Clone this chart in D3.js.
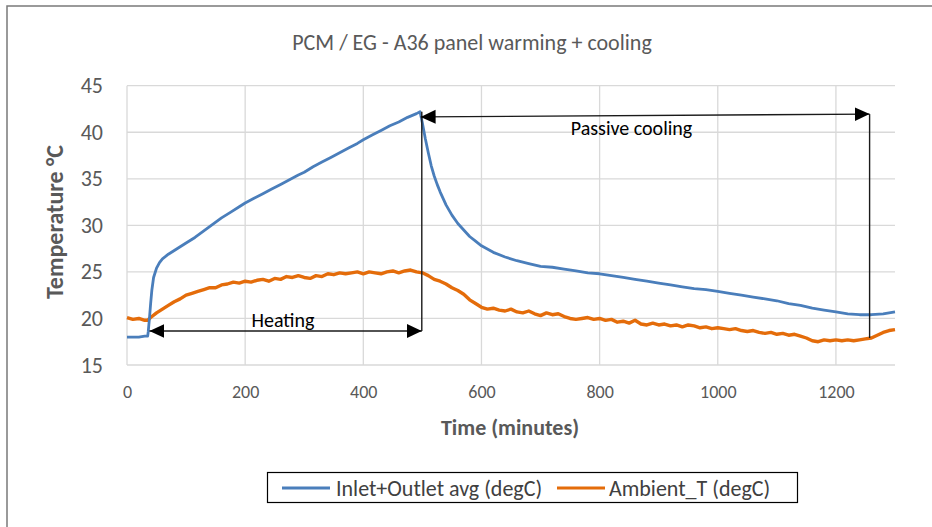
<!DOCTYPE html>
<html>
<head>
<meta charset="utf-8">
<script src="https://cdn.jsdelivr.net/npm/d3@7/dist/d3.min.js"></script>
<style>
  html, body { margin: 0; padding: 0; background: #fff; }
  svg { display: block; }
  text { font-family: Carlito, Calibri, Lato, "Open Sans", sans-serif; }
</style>
</head>
<body>
<svg id="chart" width="932" height="527"></svg>
<script>
// ---------- DATA ----------
const chartTitle = "PCM / EG - A36 panel warming + cooling";
const xTitle = "Time (minutes)";
const yTitle = "Temperature °C";
const seriesNames = ["Inlet+Outlet avg (degC)", "Ambient_T (degC)"];
const xTicks = [0, 200, 400, 600, 800, 1000, 1200];
const yTicks = [15, 20, 25, 30, 35, 40, 45];

// Inlet+Outlet average (minutes, degC)
const inletTime = [0, 10, 20, 30, 35, 36, 37, 38, 40, 42, 45, 50, 55, 60, 70, 80, 90, 100, 115, 130, 145, 160, 175, 190, 200, 215, 230, 245, 260, 275, 290, 300, 315, 330, 345, 360, 375, 390, 400, 415, 430, 445, 460, 475, 490, 496,
  500, 505, 510, 515, 520, 525, 530, 540, 550, 560, 570, 580, 590, 600, 620, 640, 660, 680, 700, 720, 740, 760, 780, 800, 820, 840, 860, 880, 900, 920, 940, 960, 980, 1000, 1020, 1040, 1060, 1080, 1100, 1120, 1140, 1160, 1180, 1200, 1220, 1240, 1260, 1280, 1300];
const inletTemp = [18.0, 18.0, 18.0, 18.1, 18.1, 18.6, 19.3, 20.0, 21.6, 23.0, 24.4, 25.4, 26.0, 26.4, 26.9, 27.3, 27.7, 28.1, 28.7, 29.4, 30.1, 30.8, 31.4, 32.0, 32.4, 32.9, 33.4, 33.9, 34.4, 34.9, 35.4, 35.7, 36.3, 36.8, 37.3, 37.8, 38.3, 38.8, 39.2, 39.7, 40.2, 40.7, 41.1, 41.6, 42.0, 42.2,
  41.0, 39.3, 37.8, 36.4, 35.3, 34.4, 33.6, 32.2, 31.1, 30.2, 29.5, 28.8, 28.3, 27.8, 27.1, 26.6, 26.2, 25.9, 25.6, 25.5, 25.3, 25.1, 24.9, 24.8, 24.6, 24.4, 24.2, 24.0, 23.8, 23.6, 23.4, 23.2, 23.1, 22.9, 22.7, 22.5, 22.3, 22.1, 21.9, 21.6, 21.4, 21.1, 20.9, 20.7, 20.5, 20.4, 20.4, 20.5, 20.7];

// Ambient temperature (minutes, degC)
const ambientTime = [0, 10, 20, 30, 35, 40, 50, 60, 70, 80, 90, 100, 110, 120, 130, 140, 150, 160, 170, 180, 190, 200, 210, 220, 230, 240, 250, 260, 270, 280, 290, 300, 310, 320, 330, 340, 350, 360, 370, 380, 390, 400, 410, 420, 430, 440, 450, 460, 470, 480, 490, 500, 510, 520, 530, 540, 550, 560, 570, 580, 590, 600, 610, 620, 630, 640, 650, 660, 670, 680, 690, 700, 710, 720, 730, 740, 750, 760, 770, 780, 790, 800, 810, 820, 830, 840, 850, 860, 870, 880, 890, 900, 910, 920, 930, 940, 950, 960, 970, 980, 990, 1000, 1010, 1020, 1030, 1040, 1050, 1060, 1070, 1080, 1090, 1100, 1110, 1120, 1130, 1140, 1150, 1160, 1170, 1180, 1190, 1200, 1210, 1220, 1230, 1240, 1250, 1260, 1270, 1280, 1290, 1300];
const ambientTemp = [20.1, 19.9, 20.0, 19.8, 19.8, 20.1, 20.6, 21.0, 21.4, 21.8, 22.1, 22.5, 22.7, 22.9, 23.1, 23.3, 23.3, 23.6, 23.7, 23.9, 23.8, 24.0, 23.9, 24.1, 24.2, 24.0, 24.3, 24.2, 24.5, 24.4, 24.6, 24.4, 24.3, 24.6, 24.5, 24.8, 24.7, 24.9, 24.8, 24.9, 25.0, 24.8, 25.0, 24.9, 24.8, 25.0, 25.1, 24.9, 25.1, 25.2, 25.0, 24.9, 24.6, 24.2, 24.0, 23.7, 23.3, 23.0, 22.6, 22.0, 21.6, 21.2, 21.0, 21.1, 20.9, 20.8, 21.0, 20.7, 20.6, 20.8, 20.5, 20.3, 20.6, 20.4, 20.5, 20.2, 20.0, 19.9, 20.0, 20.1, 19.9, 20.0, 19.8, 19.9, 19.6, 19.7, 19.5, 19.8, 19.4, 19.3, 19.5, 19.3, 19.4, 19.2, 19.3, 19.1, 19.3, 19.2, 19.0, 19.1, 18.9, 19.0, 18.9, 18.8, 18.9, 18.7, 18.6, 18.7, 18.5, 18.4, 18.5, 18.3, 18.4, 18.2, 18.3, 18.1, 17.9, 17.6, 17.5, 17.7, 17.6, 17.7, 17.6, 17.7, 17.6, 17.7, 17.8, 17.9, 18.2, 18.5, 18.7, 18.8];

// Annotations (data units)
const heatingLabel = "Heating";
const coolingLabel = "Passive cooling";
const heatingArrow = { t0: 38, t1: 499, temp: 18.65, topTemp: 42.2 };
const coolingArrow = { t0: 497, temp0: 41.65, t1: 1257, temp1: 41.95, bottomTemp: 17.9 };

// ---------- DRAW ----------
const svg = d3.select("#chart");
const colors = ["#4A7EBB", "#E46C0A"];
const textColor = "#595959";

// outer frame
svg.append("rect").attr("x", 7).attr("y", 6).attr("width", 960).attr("height", 560)
  .attr("fill", "none").attr("stroke", "#7a7a7a").attr("stroke-width", 1.5);

const x = d3.scaleLinear().domain([0, 1300]).range([127, 895]);
const y = d3.scaleLinear().domain([15, 45]).range([365, 85.7]);

// gridlines
const grid = svg.append("g");
grid.selectAll("line.h").data(yTicks).join("line")
  .attr("x1", x(0)).attr("x2", x(1300))
  .attr("y1", d => y(d)).attr("y2", d => y(d))
  .attr("stroke", "#d9d9d9").attr("stroke-width", 1.3);
grid.selectAll("line.v").data(xTicks).join("line")
  .attr("x1", d => x(d)).attr("x2", d => x(d))
  .attr("y1", y(45)).attr("y2", y(15))
  .attr("stroke", "#d9d9d9").attr("stroke-width", 1.3);

// axes (labels only)
const yAxis = d3.axisLeft(y).tickValues(yTicks).tickFormat(d3.format("d")).tickSize(0).tickPadding(24);
svg.append("g").attr("transform", `translate(${x(0)},0)`).call(yAxis)
  .call(g => g.select(".domain").remove())
  .selectAll("text").attr("fill", textColor).style("font-size", "22px")
  .style("font-family", "Carlito, Calibri, Lato, sans-serif");

const xAxis = d3.axisBottom(x).tickValues(xTicks).tickFormat(d3.format("d")).tickSize(0).tickPadding(20);
svg.append("g").attr("transform", `translate(0,${y(15)})`).call(xAxis)
  .call(g => g.select(".domain").remove())
  .selectAll("text").attr("fill", textColor).style("font-size", "18px")
  .style("font-family", "Carlito, Calibri, Lato, sans-serif");

// titles
svg.append("text").attr("x", 472).attr("y", 50).attr("text-anchor", "middle")
  .attr("fill", textColor).style("font-size", "22px").text(chartTitle);
svg.append("text").attr("x", 510).attr("y", 435).attr("text-anchor", "middle")
  .attr("fill", textColor).style("font-size", "22px").style("font-weight", "bold").text(xTitle);
svg.append("text").attr("transform", "translate(63,222) rotate(-90)").attr("text-anchor", "middle")
  .attr("fill", textColor).style("font-size", "24px").style("font-weight", "bold").text(yTitle);

// series
const line = d3.line().x(d => x(d[0])).y(d => y(d[1]));
const inletData = inletTime.map((t, i) => [t, inletTemp[i]]);
const ambientData = ambientTime.map((t, i) => [t, ambientTemp[i]]);
svg.append("path").datum(ambientData).attr("d", line).attr("fill", "none")
  .attr("stroke", colors[1]).attr("stroke-width", 3.4).attr("stroke-linejoin", "round");
svg.append("path").datum(inletData).attr("d", line).attr("fill", "none")
  .attr("stroke", colors[0]).attr("stroke-width", 2.8).attr("stroke-linejoin", "round");

// arrow markers
const defs = svg.append("defs");
defs.append("marker").attr("id", "ah").attr("markerUnits", "userSpaceOnUse")
  .attr("viewBox", "0 -8 16 16").attr("refX", 15).attr("refY", 0)
  .attr("markerWidth", 16).attr("markerHeight", 16).attr("orient", "auto-start-reverse")
  .append("path").attr("d", "M0,-7L15,0L0,7Z").attr("fill", "#000");

const ann = svg.append("g").attr("stroke", "#1a1a1a").attr("stroke-width", 1.4);
ann.append("line")
  .attr("x1", x(heatingArrow.t0)).attr("y1", y(heatingArrow.temp))
  .attr("x2", x(heatingArrow.t1)).attr("y2", y(heatingArrow.temp))
  .attr("marker-start", "url(#ah)").attr("marker-end", "url(#ah)");
ann.append("line")
  .attr("x1", x(heatingArrow.t1)).attr("y1", y(heatingArrow.temp))
  .attr("x2", x(heatingArrow.t1)).attr("y2", y(heatingArrow.topTemp));
ann.append("line")
  .attr("x1", x(coolingArrow.t0)).attr("y1", y(coolingArrow.temp0))
  .attr("x2", x(coolingArrow.t1)).attr("y2", y(coolingArrow.temp1))
  .attr("marker-start", "url(#ah)").attr("marker-end", "url(#ah)");
ann.append("line")
  .attr("x1", x(coolingArrow.t1)).attr("y1", y(coolingArrow.temp1))
  .attr("x2", x(coolingArrow.t1)).attr("y2", y(coolingArrow.bottomTemp));

svg.append("text").attr("x", x(264)).attr("y", y(19.83) + 7).attr("text-anchor", "middle")
  .attr("fill", "#000").style("font-size", "20px").text(heatingLabel);
svg.append("text").attr("x", x(854)).attr("y", y(40.45) + 7).attr("text-anchor", "middle")
  .attr("fill", "#000").style("font-size", "20px").text(coolingLabel);

// legend
const lg = svg.append("g");
lg.append("rect").attr("x", 267.5).attr("y", 472.5).attr("width", 530).attr("height", 30)
  .attr("fill", "#fff").attr("stroke", "#000").attr("stroke-width", 1.2);
const legendItems = [
  { name: seriesNames[0], color: colors[0], x0: 282, tx: 336 },
  { name: seriesNames[1], color: colors[1], x0: 557, tx: 609 }
];
legendItems.forEach(it => {
  lg.append("line").attr("x1", it.x0).attr("x2", it.x0 + 48).attr("y1", 488).attr("y2", 488)
    .attr("stroke", it.color).attr("stroke-width", 3);
  lg.append("text").attr("x", it.tx).attr("y", 495.5).attr("fill", "#404040")
    .style("font-size", "22px").text(it.name);
});
</script>
</body>
</html>
